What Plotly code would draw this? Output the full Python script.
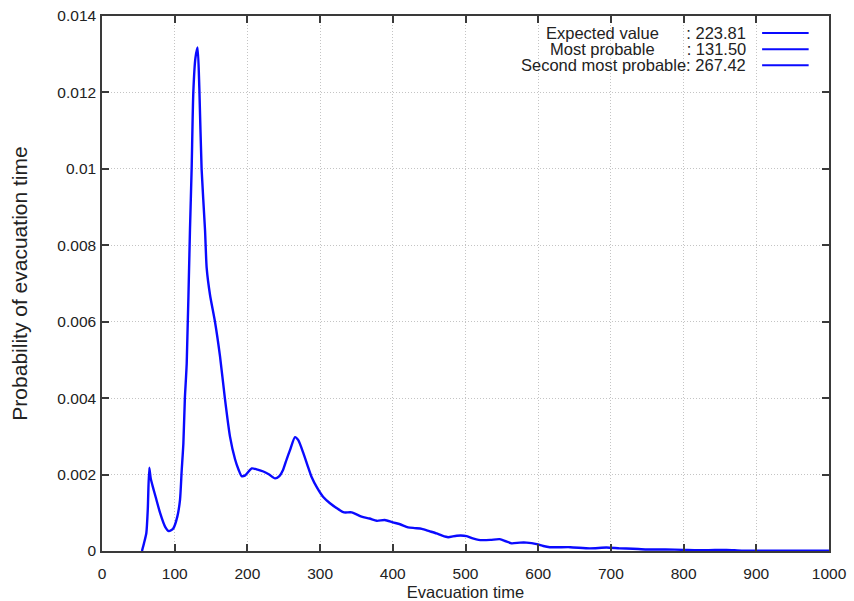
import plotly.graph_objects as go

# Probability density of evacuation time (smoothed)
evac_time = [55, 58, 61, 63, 65, 67, 70.5, 74, 80, 86.7, 92, 98, 103.6, 107.3, 109.6,
             111.9, 114, 116.5, 121, 123.3, 125.6, 128.5, 131.5, 133.9, 137, 141.7, 144,
             148.6, 155.4, 162.3, 169, 176, 183, 188, 192, 197, 206, 214, 222, 230, 238,
             244, 249, 254, 258.6, 265.5, 270, 277, 283, 288, 296, 304, 313.6, 327, 333,
             343.5, 357, 368, 378, 389, 400, 410, 421, 430, 440, 450, 460, 468, 476, 488,
             501.6, 510, 518, 534, 547, 556, 563.5, 575, 584, 598, 607, 616, 644, 671,
             694, 712, 730, 749, 775, 800, 830, 859, 880, 910, 950, 1000]
probability = [0.0, 0.00022, 0.00047, 0.0011, 0.00218, 0.0019, 0.00164, 0.0014, 0.00099,
               0.00064, 0.00052, 0.00059, 0.0009, 0.00134, 0.0021,
               0.0028, 0.004, 0.0049, 0.0084, 0.0100, 0.0120, 0.0129, 0.01318, 0.0121,
               0.0100, 0.0084, 0.0074,
               0.0067, 0.0060, 0.0051, 0.0040, 0.0030, 0.0024, 0.00212, 0.00196, 0.00198,
               0.00216, 0.00213, 0.00208, 0.00200, 0.0019,
               0.00196, 0.00212, 0.0024, 0.00264, 0.00298, 0.0029, 0.00256, 0.00222,
               0.00195, 0.00165, 0.00142, 0.00125, 0.00107, 0.00101,
               0.00101, 0.0009, 0.00085, 0.00079, 0.00081, 0.00075, 0.0007, 0.00062,
               0.0006, 0.00058, 0.00052, 0.00046, 0.0004, 0.00036, 0.0004,
               0.00039, 0.00033, 0.00029, 0.00029, 0.00031, 0.00025, 0.0002, 0.00022,
               0.00022, 0.00018, 0.00013, 0.0001, 0.0001, 0.00007,
               0.00009, 0.00007, 0.00006, 0.00004, 0.00004, 0.00003, 0.00002, 0.00003,
               0.00001, 0.00001, 0.00001, 0.00001]

legend_labels = ["Expected value\u00a0\u00a0\u00a0\u00a0\u00a0\u00a0: 223.81",
                 "Most probable\u00a0\u00a0\u00a0\u00a0\u00a0\u00a0\u00a0: 131.50",
                 "Second most probable: 267.42"]

x_ticks = list(range(0, 1001, 100))
y_ticks = [0, 0.002, 0.004, 0.006, 0.008, 0.010, 0.012, 0.014]
y_tick_text = ["0", "0.002", "0.004", "0.006", "0.008", "0.01", "0.012", "0.014"]

FONT = "Liberation Sans, Arial, Helvetica, sans-serif"
LINE_BLUE = "#0a0aff"

fig = go.Figure()
fig.add_trace(go.Scatter(
    x=evac_time, y=probability, mode="lines",
    line=dict(color=LINE_BLUE, width=2.4, shape="spline", smoothing=0.6),
    showlegend=False, hoverinfo="x+y",
))

axis_common = dict(
    showline=True, linecolor="#3a3a3a", linewidth=1.5, mirror="ticks",
    ticks="inside", ticklen=7, tickwidth=1.5, tickcolor="#3a3a3a",
    showgrid=True, gridcolor="#c4c4c4", gridwidth=1, griddash="1px,2px",
    zeroline=False, automargin=False,
    tickfont=dict(family=FONT, size=15.5, color="#222222"),
)

fig.update_xaxes(range=[0, 1000], tickvals=x_ticks, ticklabelstandoff=8,
                 title=dict(text="Evacuation time", standoff=8,
                            font=dict(family=FONT, size=16.5, color="#222222")),
                 **axis_common)
fig.update_yaxes(range=[0, 0.014], tickvals=y_ticks, ticktext=y_tick_text,
                 ticklabelstandoff=1,
                 title=dict(text="Probability of evacuation time", standoff=24,
                            font=dict(family=FONT, size=21, color="#222222")),
                 **axis_common)

# key: right-aligned labels with line samples to their right
row_y = [0.968, 0.938, 0.908]
for label, yy in zip(legend_labels, row_y):
    fig.add_annotation(x=0.889, y=yy, xref="paper", yref="paper",
                       xanchor="right", yanchor="middle", showarrow=False,
                       text=label, font=dict(family=FONT, size=16.5, color="#222222"))
    fig.add_shape(type="line", xref="paper", yref="paper",
                  x0=0.908, x1=0.972, y0=yy, y1=yy,
                  line=dict(color=LINE_BLUE, width=2))

fig.update_layout(
    width=854, height=601,
    margin=dict(l=102, r=25, t=16, b=50),
    paper_bgcolor="white", plot_bgcolor="white",
    font=dict(family=FONT),
)

fig.write_html("out.html")
